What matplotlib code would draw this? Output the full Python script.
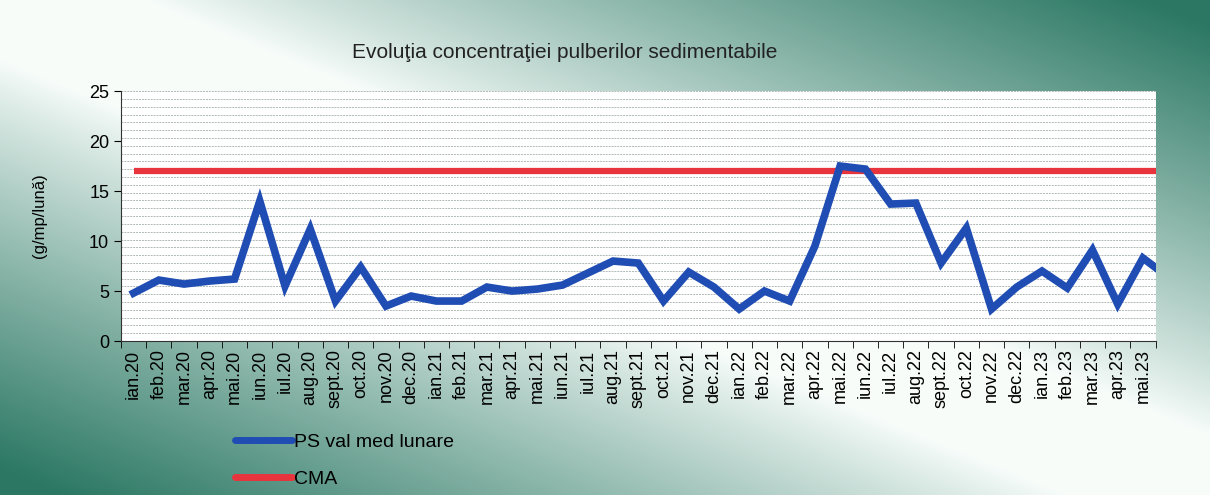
from matplotlib import pyplot as plt
from matplotlib.ticker import FixedLocator, MultipleLocator
from matplotlib.lines import Line2D
import numpy as np

plt.rcParams['font.family'] = ['Liberation Sans', 'DejaVu Sans']

# luni (ultima, iun.23, iese din axa si nu are eticheta)
luni = ['ian.20', 'feb.20', 'mar.20', 'apr.20', 'mai.20', 'iun.20', 'iul.20', 'aug.20',
        'sept.20', 'oct.20', 'nov.20', 'dec.20',
        'ian.21', 'feb.21', 'mar.21', 'apr.21', 'mai.21', 'iun.21', 'iul.21', 'aug.21',
        'sept.21', 'oct.21', 'nov.21', 'dec.21',
        'ian.22', 'feb.22', 'mar.22', 'apr.22', 'mai.22', 'iun.22', 'iul.22', 'aug.22',
        'sept.22', 'oct.22', 'nov.22', 'dec.22',
        'ian.23', 'feb.23', 'mar.23', 'apr.23', 'mai.23', 'iun.23']
ps_val = [4.8, 6.1, 5.7, 6.0, 6.2, 14.0, 5.5, 11.2, 4.0, 7.4, 3.5, 4.5,
          4.0, 4.0, 5.4, 5.0, 5.2, 5.6, 6.8, 8.0, 7.8, 4.0, 6.9, 5.4,
          3.2, 5.0, 4.0, 9.5, 17.5, 17.2, 13.7, 13.8, 7.8, 11.3, 3.2, 5.4,
          7.0, 5.3, 9.1, 3.7, 8.3, 6.4]
cma = [17] * len(luni)
n_vis = 41  # luni afisate pe axa

fig = plt.figure(figsize=(12.10, 4.95), dpi=100)

# fundal cu gradient (alb pe diagonala, verde in colturi)
bg = fig.add_axes([0, 0, 1, 1], zorder=-10)
u = np.linspace(0, 1, 400)[None, :]
v = np.linspace(0, 1, 200)[:, None]
t = np.abs(u - v)
f = np.clip((t - 0.12) / 0.83, 0, 1) ** 0.9
white = np.array([0.97, 0.99, 0.98])
green = np.array([0.17, 0.47, 0.39])
img = white[None, None, :] * (1 - f[..., None]) + green[None, None, :] * f[..., None]
bg.imshow(img, aspect='auto', extent=[0, 1, 0, 1], origin='upper')
bg.axis('off')

ax = fig.add_axes([0.1, 0.311, 0.855, 0.505])
ax.set_facecolor('white')
x = np.arange(len(luni))

ax.plot(x, cma, color='#e8343d', lw=4.5, solid_capstyle='butt', zorder=3)
ax.plot(x, ps_val, color='#1f4db3', lw=5.5, solid_joinstyle='miter', zorder=4)

ax.set_xlim(-0.5, n_vis - 0.5)
ax.set_ylim(0, 25)
ax.set_xticks(x[:n_vis])
ax.set_xticklabels(luni[:n_vis], rotation=90, fontsize=13)
ax.xaxis.set_minor_locator(FixedLocator(np.arange(-0.5, n_vis, 1)))
ax.tick_params(axis='x', which='major', length=0, pad=6)
ax.tick_params(axis='x', which='minor', length=5, direction='out')
ax.yaxis.set_major_locator(MultipleLocator(5))
ax.tick_params(axis='y', length=5, labelsize=13)

for yy in np.linspace(0, 25, 33)[1:]:
    ax.axhline(yy, color='#b0b8b8', lw=0.7, ls=(0, (2, 1)), zorder=1)
ax.axvline(n_vis - 0.5, color='#c8cfcf', lw=0.8, zorder=1)

for s in ['top', 'right']:
    ax.spines[s].set_visible(False)
ax.spines['left'].set_color('#333333')
ax.spines['bottom'].set_color('#333333')

ax.set_ylabel('(g/mp/lună)', fontsize=12, labelpad=30)

fig.text(0.467, 0.893, 'Evoluţia concentraţiei pulberilor sedimentabile',
         ha='center', va='center', fontsize=15, color='#222222')

handles = [Line2D([], [], color='#1f4db3', lw=5, solid_capstyle='round'),
           Line2D([], [], color='#e8343d', lw=5, solid_capstyle='round')]
fig.legend(handles, ['PS val med lunare', 'CMA'], loc='upper left',
           bbox_to_anchor=(0.188, 0.14), bbox_transform=fig.transFigure,
           frameon=False, fontsize=14, handlelength=2.9, handletextpad=0.1,
           labelspacing=1.0, borderaxespad=0)

fig.savefig('out.png', dpi=100)
